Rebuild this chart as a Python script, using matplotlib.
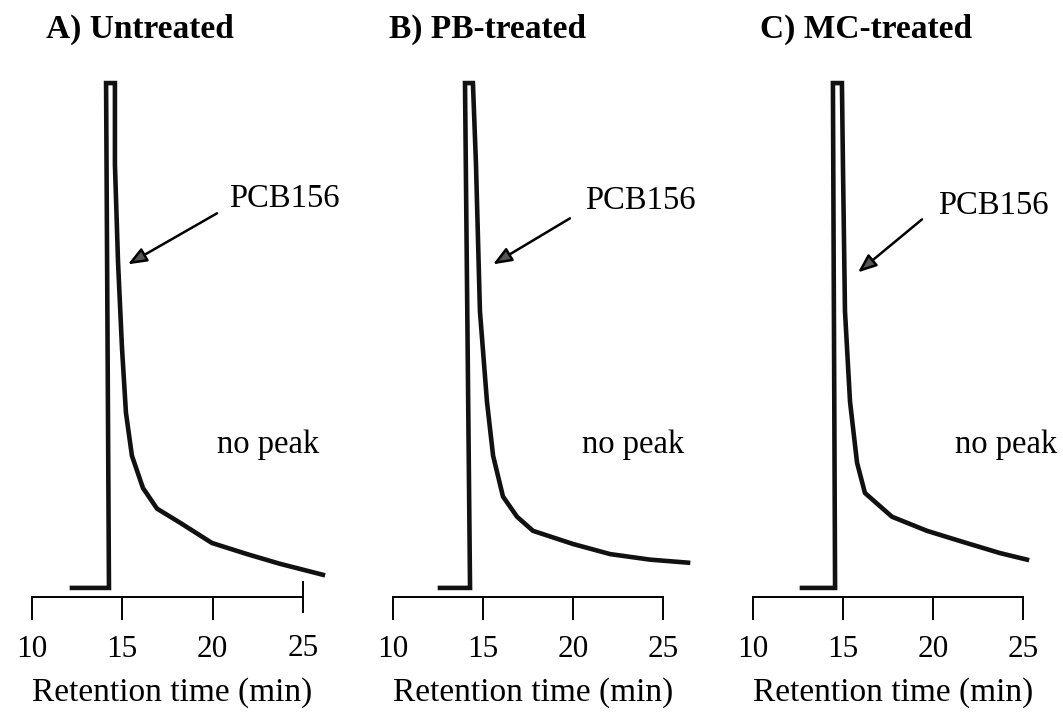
import numpy as np
import matplotlib
matplotlib.use("Agg")
import matplotlib.pyplot as plt

plt.rcParams['font.family'] = ['Liberation Serif', 'DejaVu Serif']

# chromatogram traces, signal in % of the clipped peak height
time_a = [12.21, 14.26, 14.10, 14.59, 14.59, 14.76, 14.98, 15.20, 15.53, 16.14,
          16.92, 18.20, 19.96, 21.90, 23.70, 26.10]
sig_a = [0, 0, 100, 100, 83.9, 64.7, 47.6, 34.7, 26.2, 19.8,
         15.7, 12.9, 8.9, 6.7, 4.8, 2.6]

time_b = [12.61, 14.28, 14.00, 14.44, 14.61, 14.83, 15.22, 15.56, 16.11, 16.89,
          17.78, 20.00, 22.06, 24.28, 26.39]
sig_b = [0, 0, 100, 100, 83.9, 54.8, 36.9, 26.2, 18.1, 14.1,
         11.3, 8.7, 6.7, 5.6, 5.0]

time_c = [12.72, 14.56, 14.44, 14.94, 15.00, 15.11, 15.39, 15.78, 16.22, 17.72,
          19.67, 21.67, 23.72, 25.22]
sig_c = [0, 0, 100, 100, 83.1, 54.8, 36.9, 24.8, 18.8, 14.1,
         11.3, 9.1, 6.9, 5.6]

titles = ["A) Untreated", "B) PB-treated", "C) MC-treated"]
tick_vals = [10, 15, 20, 25]
xlabel = "Retention time (min)"
peak_label = "PCB156"
no_peak_label = "no peak"

# arrow (tail, tip) and label positions in data units per panel
arrow_tail = [(20.24, 74.2), (19.83, 73.2), (19.39, 73.0)]
arrow_tip = [(15.31, 64.1), (15.56, 64.1), (15.83, 62.5)]
label_pos = [(20.90, 75.4), (20.67, 75.0), (20.28, 74.0)]
nopeak_pos = [(23.06, 26.8), (23.33, 26.8), (24.06, 26.8)]

W, H = 1063, 720
fig = plt.figure(figsize=(W / 100, H / 100), dpi=100)

x10_px = [32, 393, 753]
x25_px = [303, 663, 1023]
title_px = [46, 389, 760]
top_px, bot_px = 77, 597
xmin, xmax = 9.5, 27.0

traces = [(time_a, sig_a), (time_b, sig_b), (time_c, sig_c)]

for i in range(3):
    ppm = (x25_px[i] - x10_px[i]) / 15.0
    left = x10_px[i] - (10 - xmin) * ppm
    right = x25_px[i] + (xmax - 25) * ppm
    ax = fig.add_axes([left / W, 1 - bot_px / H, (right - left) / W, (bot_px - top_px) / H])
    t, s = traces[i]
    ax.plot(t, s, color='#111111', lw=3.3, solid_joinstyle='miter', clip_on=False)
    ax.set_xlim(xmin, xmax)
    ax.set_ylim(-1.8, 101.2)

    for sp in ['left', 'right', 'top']:
        ax.spines[sp].set_visible(False)
    ax.spines['bottom'].set_bounds(10, 25)
    ax.spines['bottom'].set_linewidth(1.4)
    ax.set_yticks([])

    if i == 0:
        ax.set_xticks(tick_vals[:3])
        ax.set_xticks([25], minor=True)
        ax.set_xticklabels(['25'], minor=True)
        ax.tick_params(axis='x', which='minor', direction='inout', length=23,
                       width=1.4, pad=15, labelsize=22.5)
    else:
        ax.set_xticks(tick_vals)
    ax.tick_params(axis='x', which='major', direction='out', length=16.5,
                   width=1.4, pad=11, labelsize=22.5)

    ax.set_xlabel(xlabel, fontsize=24)
    xc = ((x10_px[i] + x25_px[i]) / 2 + 5 - left) / (right - left)
    ax.xaxis.set_label_coords(xc, -0.155)

    ax.annotate("", xy=arrow_tip[i], xytext=arrow_tail[i],
                arrowprops=dict(arrowstyle='-|>,head_length=0.8,head_width=0.32',
                                mutation_scale=14, lw=1.8, color='black',
                                fc='#555555', shrinkA=0, shrinkB=0))
    ax.text(label_pos[i][0], label_pos[i][1], peak_label, fontsize=23.5,
            ha='left', va='baseline')
    ax.text(nopeak_pos[i][0], nopeak_pos[i][1], no_peak_label, fontsize=23.5,
            ha='center', va='baseline')

    fig.text(title_px[i] / W, 1 - 29 / H, titles[i], fontsize=24,
             fontweight='bold', ha='left', va='center')

fig.savefig("out.png", dpi=100)
